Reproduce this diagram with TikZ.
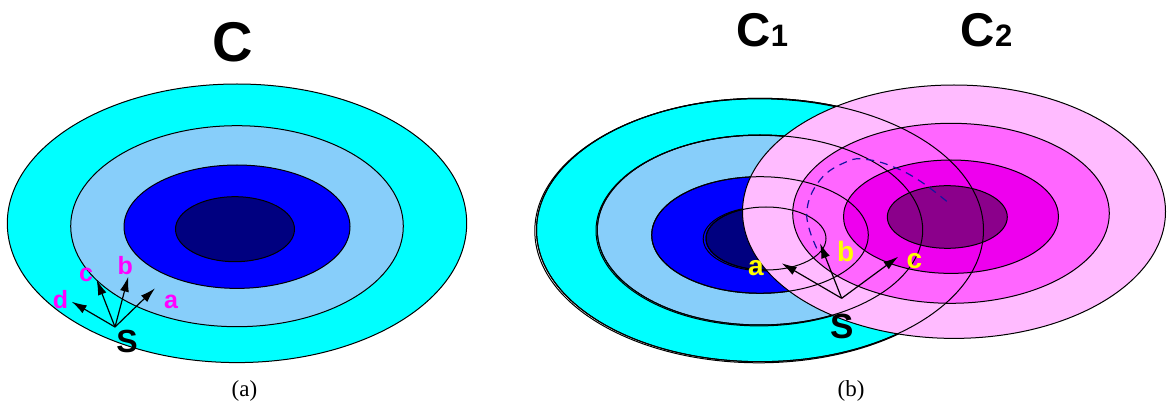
\documentclass[tikz,border=0pt]{standalone}
\usepackage{fontspec}
\setmainfont{Liberation Serif}
\newfontfamily\labfont{Liberation Sans}
\usetikzlibrary{arrows.meta}
\definecolor{cyanc}{RGB}{0,255,255}
\definecolor{lbc}{RGB}{135,206,250}
\definecolor{bluec}{RGB}{0,0,255}
\definecolor{navyc}{RGB}{0,0,128}
\definecolor{pkone}{RGB}{255,187,255}
\definecolor{pktwo}{RGB}{255,102,255}
\definecolor{pkthree}{RGB}{238,0,238}
\definecolor{pkfour}{RGB}{139,0,139}
\definecolor{magl}{RGB}{255,0,255}
\definecolor{yel}{RGB}{255,255,0}
\definecolor{dashc}{RGB}{20,20,160}
\begin{document}
\begin{tikzpicture}[x=0.5pt,y=-0.5pt,
  ring/.style={draw=black,line width=0.5pt},
  ringonly/.style={draw=black,line width=0.5pt},
  arr/.style={-{Latex[length=7.5pt,width=4.5pt]},line width=0.6pt},
  bigC/.style={font=\labfont\bfseries\fontsize{28pt}{30pt}\selectfont,inner sep=0pt,anchor=base},
  setlab/.style={font=\labfont\bfseries\fontsize{23.7pt}{26pt}\selectfont,inner sep=0pt,anchor=base},
  smlab/.style={font=\labfont\bfseries\fontsize{12.5pt}{14pt}\selectfont,inner sep=0pt,anchor=base,text=magl},
  ylab/.style={font=\labfont\bfseries\fontsize{14pt}{16pt}\selectfont,inner sep=0pt,anchor=base,text=yel},
  slab/.style={font=\labfont\bfseries\fontsize{16pt}{18pt}\selectfont,inner sep=0pt,anchor=base},
  captxt/.style={font=\fontsize{11.5pt}{13pt}\selectfont,inner sep=0pt,anchor=base}]
\useasboundingbox (0,0) rectangle (1169,406);
% ---------- (a) ----------
\filldraw[ring,fill=cyanc] (237,223.3) ellipse [x radius=229.7, y radius=139.3];
\filldraw[ring,fill=lbc] (237,226.2) ellipse [x radius=166.3, y radius=100.5];
\filldraw[ring,fill=bluec] (237,226.7) ellipse [x radius=113, y radius=61.7];
\filldraw[ring,fill=navyc] (235,229.2) ellipse [x radius=59.5, y radius=32.5];
\node[bigC] (labC) at (233,61.7) {C};
\coordinate (sA) at (115,327);
\coordinate (tAd) at (71.7,301.7);
\coordinate (tAc) at (96.7,280);
\coordinate (tAb) at (128.3,276.7);
\coordinate (tAa) at (155,288.3);
\draw[arr] (sA) -- (tAd);
\draw[arr] (sA) -- (tAc);
\draw[arr] (sA) -- (tAb);
\draw[arr] (sA) -- (tAa);
\node[smlab] (la) at (171,308.3) {a};
\node[smlab] (lb) at (125.3,275) {b};
\node[smlab] (lc) at (86,281.7) {c};
\node[smlab] (ld) at (60.5,308.3) {d};
\node[slab] (lS) at (127,352.7) {S};
\node[captxt] (capa) at (244.5,397) {(a)};
% ---------- (b) ----------
% C1 fills
\filldraw[ring,fill=cyanc] (760,230) ellipse [x radius=223.5, y radius=131.7];
\draw[ringonly] (758.8,230.8) ellipse [x radius=224, y radius=132];
\filldraw[ring,fill=lbc] (760,230) ellipse [x radius=162.7, y radius=95];
\draw[ringonly] (759,230.6) ellipse [x radius=163, y radius=95.3];
\filldraw[ring,fill=bluec] (760,235) ellipse [x radius=108.3, y radius=58.3];
\filldraw[ring,fill=navyc] (766,238.5) ellipse [x radius=60, y radius=31.5];
\draw[ringonly] (765,238.8) ellipse [x radius=61.8, y radius=32.2];
% C2 fills
\filldraw[ring,fill=pkone] (954,211.7) ellipse [x radius=211.5, y radius=126.7];
\filldraw[ring,fill=pktwo] (951,213.3) ellipse [x radius=158.3, y radius=90];
\filldraw[ring,fill=pkthree] (951,216.7) ellipse [x radius=107.5, y radius=56.7];
\filldraw[ring,fill=pkfour] (947.3,217) ellipse [x radius=60, y radius=31.3];
% C1 outlines on top
\draw[ringonly] (760,230) ellipse [x radius=223.5, y radius=131.7];
\draw[ringonly] (760,230) ellipse [x radius=162.7, y radius=95];
\draw[ringonly] (760,235) ellipse [x radius=108.3, y radius=58.3];
\draw[ringonly] (766,238.5) ellipse [x radius=60, y radius=31.5];
% dashed path
\draw[dashc,line width=0.6pt,dash pattern=on 4pt off 3pt]
  plot[smooth,tension=0.7] coordinates {(816.7,248.3) (806.7,213.3) (820,180) (846.7,161.7) (866.7,159.5) (893,166.7) (920,181) (950,204)};
\node[setlab] (lC1) at (762.5,47) {C{\fontsize{15.5pt}{17pt}\selectfont 1}};
\node[setlab] (lC2) at (986.5,47) {C{\fontsize{15.5pt}{17pt}\selectfont 2}};
\coordinate (sB) at (841.7,298.3);
\coordinate (tBa) at (781.7,263.3);
\coordinate (tBb) at (820,243.3);
\coordinate (tBc) at (898.3,256.7);
\draw[arr] (sB) -- (tBa);
\draw[arr] (sB) -- (tBb);
\draw[arr] (sB) -- (tBc);
\node[ylab] (ya) at (755.8,275.7) {a};
\node[ylab] (yb) at (845.7,261.7) {b};
\node[ylab] (yc) at (914.5,268.3) {c};
\node[slab,font=\labfont\bfseries\fontsize{17.5pt}{19pt}\selectfont] (lSb) at (842.5,338.3) {S};
\node[captxt] (capb) at (851,397) {(b)};
\end{tikzpicture}
\end{document}
